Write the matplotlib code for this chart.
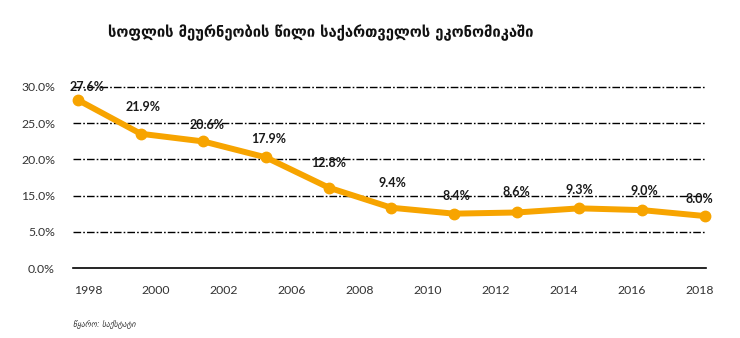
import matplotlib
matplotlib.use("Agg")
import matplotlib.pyplot as plt
import numpy as np

# ---- data ----
point_labels = ["27.6%", "21.9%", "20.6%", "17.9%", "12.8%", "9.4%", "8.4%", "8.6%", "9.3%", "9.0%", "8.0%"]
share_values = [27.6, 21.9, 20.6, 17.9, 12.8, 9.4, 8.4, 8.6, 9.3, 9.0, 8.0]
year_labels = ["1998", "2000", "2002", "2006", "2008", "2010", "2012", "2014", "2016", "2018"]
y_tick_labels = ["0.0%", "5.0%", "15.0%", "20.0%", "25.0%", "30.0%"]
title_text = "სოფლის მეურნეობის წილი საქართველოს ეკონომიკაში"
source_text = "წყარო: საქსტატი"

# ---- layout / style ----
W, H = 740, 338
PX = 72 / 100  # points per pixel at dpi 100
orange = "#F7A400"
label_offsets_px = [(9, -13), (2, -27), (4, -16), (3, -18), (0, -25), (1, -25),
                    (2, -18), (0, -20), (0, -18), (2, -19.5), (-5, -17)]

fig = plt.figure(figsize=(W / 100, H / 100), dpi=100)
ax = fig.add_axes([73 / W, 1 - 268.3 / H, (706 - 73) / W, (268.3 - 86.7) / H])

x = np.arange(len(share_values))
ax.set_xlim(-0.08, 10.02)
y0, y1 = -0.83, 29.85
ax.set_ylim(y0, y1)

yticks = np.linspace(y0, y1, len(y_tick_labels))
for i, yt in enumerate(yticks):
    if i == 0:
        ax.axhline(yt, color="black", lw=1.2, zorder=1, clip_on=False)
    else:
        ax.axhline(yt, color="black", lw=1.0, ls=(0, (5.5, 1.5, 1.2, 1.5)), zorder=1, clip_on=False)

ax.plot(x, share_values, color=orange, lw=4.3, marker="o", ms=7.5,
        solid_capstyle="round", zorder=3, clip_on=False)

for xi, yi, lab, (dx, dy) in zip(x, share_values, point_labels, label_offsets_px):
    ax.annotate(lab, (xi, yi), xytext=(dx * PX, -dy * PX), textcoords="offset points",
                ha="center", va="center", fontsize=9, fontweight="bold",
                color="#1a1a1a", family="Lato", zorder=4, annotation_clip=False)

ax.set_yticks(yticks)
ax.set_yticklabels(y_tick_labels, family="Lato", fontsize=8.8, color="#333333")
xt = [(88 + 68 * i - 78) / 62.7 for i in range(len(year_labels))]
ax.set_xticks(xt)
ax.set_xticklabels(year_labels, family="Lato", fontsize=8.8, color="#333333")
ax.tick_params(axis="both", length=0)
ax.tick_params(axis="y", pad=13)
ax.tick_params(axis="x", pad=12)
for s in ax.spines.values():
    s.set_visible(False)

fig.text(321 / W, 1 - 33 / H, title_text, ha="center", va="center",
         fontsize=10.6, fontweight="bold", family=["DejaVu Sans"], color="#111111")
fig.text(73 / W, 1 - 325 / H, source_text, ha="left", va="center",
         fontsize=5.5, style="italic", family=["DejaVu Sans"], color="#333333")

fig.savefig("out.png", dpi=100)
